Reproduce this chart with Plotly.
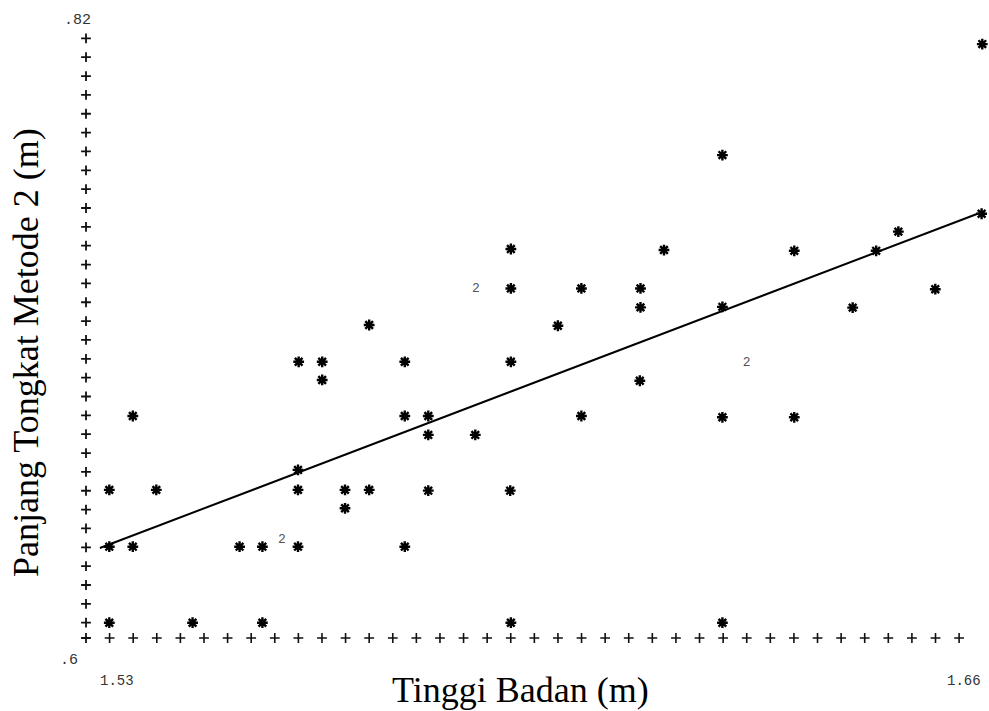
import numpy as np
import plotly.graph_objects as go

# ---- data ----
tinggi = [1.6600, 1.6213, 1.6599, 1.6475, 1.6320, 1.6442, 1.5898, 1.6126,
          1.5898, 1.6003, 1.6091, 1.6530, 1.6091, 1.6213, 1.6407, 1.5968,
          1.5687, 1.5582, 1.5617, 1.5740, 1.5898, 1.5617, 1.6090, 1.5335,
          1.5740, 1.5775, 1.6003, 1.6213, 1.6320, 1.5775, 1.5845, 1.5581,
          1.5300, 1.5370, 1.5581, 1.5651, 1.5687, 1.5775, 1.5897, 1.5651,
          1.5300, 1.5335, 1.5494, 1.5528, 1.5581, 1.5740, 1.5300, 1.5424,
          1.5528, 1.5898, 1.6213]
tongkat = [0.8200, 0.7778, 0.7555, 0.7487, 0.7414, 0.7414, 0.7421, 0.7417,
           0.7271, 0.7271, 0.7271, 0.7268, 0.7199, 0.7201, 0.7198, 0.7129,
           0.7132, 0.6992, 0.6992, 0.6992, 0.6992, 0.6923, 0.6920, 0.6786,
           0.6786, 0.6786, 0.6786, 0.6781, 0.6781, 0.6714, 0.6714, 0.6581,
           0.6505, 0.6505, 0.6505, 0.6505, 0.6505, 0.6502, 0.6502, 0.6435,
           0.6289, 0.6289, 0.6289, 0.6289, 0.6289, 0.6289, 0.6000, 0.6000,
           0.6000, 0.6000, 0.6000]

# overlapping observations, printed as a count
dup_x = [1.5846, 1.6249, 1.5557]
dup_y = [0.7271, 0.6990, 0.6314]
dup_label = ["2", "2", "2"]

# regression line end points
fit_x = [1.5286, 1.6594]
fit_y = [0.6284, 0.7556]

x_tick_vals = [1.53, 1.66]
x_tick_labels = ["1.53", "1.66"]
y_tick_vals = [0.60, 0.82]
y_tick_labels = [".6", ".82"]

x_title = "Tinggi Badan (m)"
y_title = "Panjang Tongkat Metode 2 (m)"

# ---- layout / axis geometry ----
X_RANGE = [1.52653, 1.66100]
Y_RANGE = [0.58962, 0.82536]
ROW = 0.007167          # printer row step on the vertical axis
COL = 0.003514          # printer column step of the horizontal axis ticks
Y_AXIS_ROW = 0.59418

fig = go.Figure()

# printer-style axes made of "+" characters
rows = 0.60 + ROW * np.arange(0, 32)
fig.add_trace(go.Scatter(
    x=[X_RANGE[0]] * (len(rows) + 1), y=list(rows) + [Y_AXIS_ROW],
    mode="markers", hoverinfo="skip", showlegend=False,
    marker=dict(symbol="cross-thin", size=7, color="#111",
                line=dict(width=1.8, color="#111")),
    cliponaxis=False))
cols = X_RANGE[0] + COL * np.arange(1, 38)
fig.add_trace(go.Scatter(
    x=cols, y=[Y_AXIS_ROW] * len(cols),
    mode="markers", hoverinfo="skip", showlegend=False,
    marker=dict(symbol="cross-thin", size=7, color="#111",
                line=dict(width=1.6, color="#111")),
    cliponaxis=False))

# regression line
fig.add_trace(go.Scatter(
    x=fit_x, y=fit_y, mode="lines", showlegend=False,
    line=dict(color="black", width=2)))

# data points
fig.add_trace(go.Scatter(
    x=tinggi, y=tongkat, mode="markers", showlegend=False,
    marker=dict(symbol="asterisk-open", size=9, color="black",
                line=dict(width=2.4, color="black")),
    cliponaxis=False))

# duplicate counts
fig.add_trace(go.Scatter(
    x=dup_x, y=dup_y, mode="text", text=dup_label, showlegend=False,
    textfont=dict(family="Liberation Mono", size=13, color="#555"),
    textposition="middle center", cliponaxis=False))

annotations = []
for v, lab, sh in zip(x_tick_vals, x_tick_labels, [8, -18]):
    annotations.append(dict(x=v, y=0, xref="x", yref="paper", text=lab,
                            showarrow=False, xshift=sh, yshift=-31,
                            xanchor="center", yanchor="middle",
                            font=dict(family="Liberation Mono", size=14, color="#333")))
for v, lab, sh in zip(y_tick_vals, y_tick_labels, [(-17, -38), (-9, 24)]):
    annotations.append(dict(x=0, y=v, xref="paper", yref="y", text=lab,
                            showarrow=False, xshift=sh[0], yshift=sh[1],
                            xanchor="center", yanchor="middle",
                            font=dict(family="Liberation Mono", size=15, color="#333")))
annotations.append(dict(x=0.4817, y=-0.0645, xref="paper", yref="paper",
                        text=x_title, showarrow=False,
                        xanchor="center", yanchor="middle",
                        font=dict(family="Liberation Serif", size=36, color="black")))
annotations.append(dict(x=-0.0664, y=0.479, xref="paper", yref="paper",
                        text=y_title, showarrow=False, textangle=-90,
                        xanchor="center", yanchor="middle",
                        font=dict(family="Liberation Serif", size=36, color="black")))

fig.update_layout(
    width=989, height=711,
    margin=dict(l=86, r=0, t=30, b=61),
    paper_bgcolor="white", plot_bgcolor="white",
    xaxis=dict(range=X_RANGE, visible=False, showgrid=False, zeroline=False),
    yaxis=dict(range=Y_RANGE, visible=False, showgrid=False, zeroline=False),
    annotations=annotations,
)

fig.write_html(
    "out.html",
    config={"displayModeBar": False},
    post_script="document.body.style.margin='0';document.body.style.overflow='hidden';",
)
